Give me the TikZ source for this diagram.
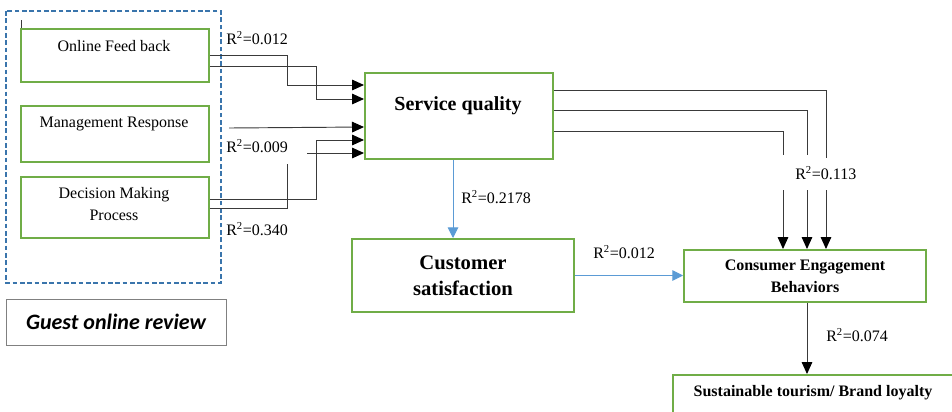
\documentclass[tikz,border=0pt]{standalone}
\usepackage{fontspec}
\setmainfont{Liberation Serif}
\newfontfamily\guestfont{Carlito}
\usetikzlibrary{arrows.meta}

\definecolor{boxgreen}{HTML}{70AD47}
\definecolor{pathblue}{HTML}{5B9BD5}
\definecolor{groupblue}{HTML}{3A75AC}
\definecolor{wiregray}{HTML}{3A3A3A}

\tikzset{
  gbox/.style={draw=boxgreen, line width=1.5pt, inner sep=0pt},
  wire/.style={draw=wiregray, line width=0.7pt},
  tip/.style={-{Triangle[length=9pt, width=8pt, color=black, fill=black]}},
  bluewire/.style={draw=pathblue, line width=0.7pt, -{Triangle[length=8pt, width=8pt, fill=pathblue]}},
  boxtext/.style={font=\fontsize{12}{16.5}\selectfont, align=center},
  rlabel/.style={font=\fontsize{12}{14}\selectfont, anchor=west, inner sep=0pt}
}

\begin{document}
\begin{tikzpicture}[x=0.75pt, y=-0.75pt]
      \clip (0, 0) rectangle (952, 411);
      % Draw the review group
      \draw[groupblue, line width=1.1pt, dash pattern=on 3.5pt off 2pt] (6, 11) rectangle (221, 283);
      \draw[wiregray, line width=0.6pt] (21, 20) -- (21, 47);
      \node[gbox, minimum width=141pt, minimum height=39.75pt] (feed) at (115, 55.5) {};
        \node[boxtext] (feedtxt) at (114, 46) {Online Feed back};
      \node[gbox, minimum width=141pt, minimum height=42pt] (mgmt) at (115, 134) {};
        \node[boxtext] (mgmttxt) at (114, 124) {Management Response};
      \node[gbox, minimum width=141pt, minimum height=45.75pt] (decision) at (115, 207.5) {};
        \node[boxtext] (decisiontxt) at (114, 204) {Decision Making\\Process};
      \node[draw=gray, line width=0.6pt, minimum width=165pt, minimum height=34.5pt,
            font=\guestfont\fontsize{16.5}{19}\selectfont\bfseries\itshape] (guest) at (116, 322) {Guest online review};
      % Draw the constructs
      \node[gbox, minimum width=141pt, minimum height=64.5pt] (sq) at (459, 116) {};
        \node[font=\fontsize{15}{18}\selectfont\bfseries] (sqtxt) at (458, 106) {Service quality};
      \node[gbox, minimum width=166.5pt, minimum height=54.75pt, align=center,
            font=\fontsize{15.5}{19.5}\selectfont\bfseries] (cs) at (463, 275.5) {Customer\\satisfaction};
      \node[gbox, minimum width=181.5pt, minimum height=39pt, align=center,
            font=\fontsize{12}{16.5}\selectfont\bfseries] (ceb) at (805, 276) {Consumer Engagement\\Behaviors};
      \node[gbox, minimum width=211.5pt, minimum height=48.75pt] (sust) at (814, 407.5) {};
        \node[font=\fontsize{12}{14}\selectfont\bfseries] (susttxt) at (813, 393) {Sustainable tourism/ Brand loyalty};
      % Draw the paths into service quality
      \coordinate (mgmtout) at (229, 128);
      \coordinate (gapl) at (287, 164);
      \coordinate (gapr) at (307, 153);
      \draw[wire, tip] (feed.east) -| (287, 85) -- (sq.west |- 0, 85);
      \draw[wire, tip] (feed.east |- 0, 66) -| (316, 99) -- (sq.west |- 0, 99);
      \draw[wire, tip] (mgmtout) -- (sq.west |- 0, 127);
      \draw[wire, tip] (decision.east |- 0, 199) -| (316, 140) -- (sq.west |- 0, 140);
      \draw[wire] (decision.east |- 0, 208) -| (gapl);
      \draw[wire, tip] (gapr) -- (sq.west |- 0, 153);
      % Draw the paths into engagement
      \coordinate (ea) at (783, 155);
      \coordinate (eb) at (807, 155);
      \coordinate (ec) at (826, 158);
      \coordinate (ea2) at (783, 190);
      \coordinate (eb2) at (807, 190);
      \coordinate (ec2) at (826, 190);
      \draw[wire] (sq.east |- 0, 131) -| (ea);
      \draw[wire] (sq.east |- 0, 110) -| (eb);
      \draw[wire] (sq.east |- 0, 90) -| (ec);
      \draw[wire, tip] (ea2) -- (ea2 |- ceb.north);
      \draw[wire, tip] (eb2) -- (eb2 |- ceb.north);
      \draw[wire, tip] (ec2) -- (ec2 |- ceb.north);
      % Draw the remaining paths
      \draw[bluewire] (sq.south -| 453, 0) -- (cs.north -| 453, 0);
      \draw[bluewire] (cs.east) -- (cs.east -| ceb.west);
      \draw[wire, tip] (ceb.south -| 807, 0) -- (sust.north -| 807, 0);
      % Draw the R squared values
      \node[rlabel] (r1) at (226, 38) {R\textsuperscript{2}=0.012};
      \node[rlabel] (r2) at (226, 146) {R\textsuperscript{2}=0.009};
      \node[rlabel] (r3) at (226, 229) {R\textsuperscript{2}=0.340};
      \node[rlabel] (r4) at (461, 197) {R\textsuperscript{2}=0.2178};
      \node[rlabel] (r5) at (593, 252) {R\textsuperscript{2}=0.012};
      \node[rlabel] (r6) at (795, 173) {R\textsuperscript{2}=0.113};
      \node[rlabel] (r7) at (826, 335) {R\textsuperscript{2}=0.074};
\end{tikzpicture}
\end{document}
